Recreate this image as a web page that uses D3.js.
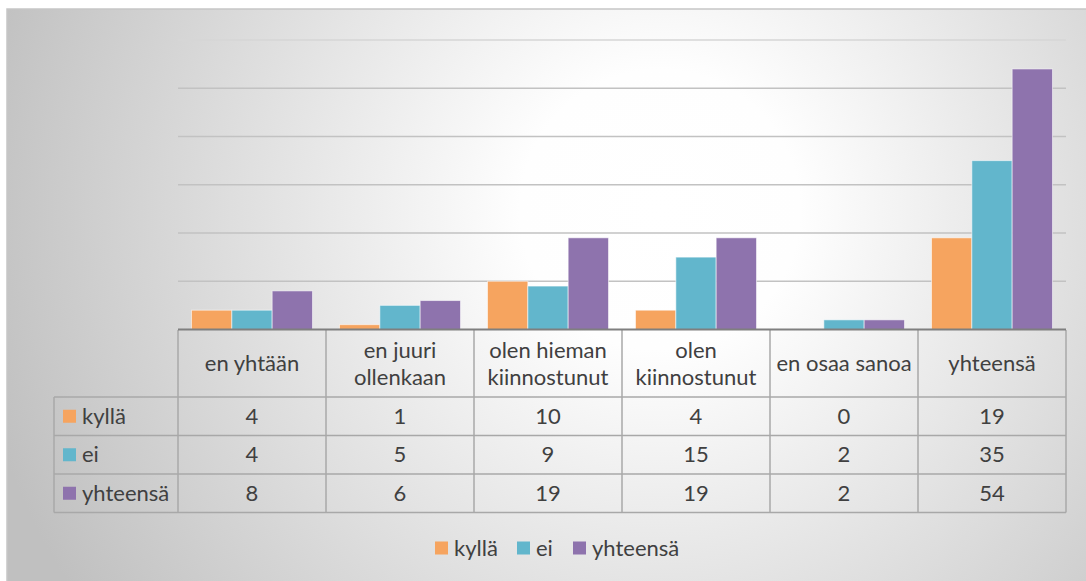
<!DOCTYPE html>
<html>
<head>
<meta charset="utf-8">
<script src="https://cdn.jsdelivr.net/npm/d3@7"></script>
<style>
  body { margin: 0; background: #fff; }
  svg { display: block; font-family: Lato, "Open Sans", sans-serif; }
</style>
</head>
<body>
<script>
// Data
const categories = ["en yhtään", "en juuri ollenkaan", "olen hieman kiinnostunut", "olen kiinnostunut", "en osaa sanoa", "yhteensä"];
const seriesNames = ["kyllä", "ei", "yhteensä"];
const kylla = [4, 1, 10, 4, 0, 19];
const ei = [4, 5, 9, 15, 2, 35];
const yhteensa = [8, 6, 19, 19, 2, 54];
const yTicks = [0, 10, 20, 30, 40, 50, 60];

const seriesValues = [kylla, ei, yhteensa];
const colors = ["#f6a45f", "#62b6cc", "#8e73ad"];

const width = 1086, height = 581;
const fontSize = 22;

const svg = d3.select("body").append("svg")
  .attr("width", width)
  .attr("height", height);

// background gradient
const defs = svg.append("defs");
const grad = defs.append("radialGradient")
  .attr("id", "bg")
  .attr("gradientUnits", "userSpaceOnUse")
  .attr("cx", 660).attr("cy", 210).attr("r", 700);
grad.append("stop").attr("offset", 0).attr("stop-color", "#ffffff");
grad.append("stop").attr("offset", 0.2).attr("stop-color", "#fefefe");
grad.append("stop").attr("offset", 1).attr("stop-color", "#c0c0c0");

svg.append("rect")
  .attr("x", 7).attr("y", 9)
  .attr("width", width).attr("height", height)
  .attr("fill", "url(#bg)")
  .attr("stroke", "#c6c6c6")
  .attr("stroke-width", 1.5);

// Scales
const x0 = d3.scaleBand()
  .domain(categories)
  .range([178, 1066]);

const x1 = d3.scaleBand()
  .domain(seriesNames)
  .range([0, x0.bandwidth()])
  .paddingOuter(0.335);

const y = d3.scaleLinear()
  .domain([0, 60])
  .range([329.5, 40]);

// gridlines
svg.append("g")
  .selectAll("line")
  .data(yTicks.filter(d => d > 0))
  .enter()
  .append("line")
  .attr("x1", 178).attr("x2", 1066)
  .attr("y1", d => y(d)).attr("y2", d => y(d))
  .attr("stroke", d => d === 60 ? "#d6d6d6" : "#c2c2c2")
  .attr("stroke-width", 1.5);

// bars
const groups = svg.append("g")
  .selectAll("g")
  .data(categories)
  .enter()
  .append("g")
  .attr("transform", d => `translate(${x0(d)},0)`);

groups.selectAll("rect")
  .data((d, i) => seriesNames.map((s, j) => ({ s, j, v: seriesValues[j][i] })))
  .enter()
  .filter(d => d.v > 0)
  .append("rect")
  .attr("x", d => x1(d.s))
  .attr("width", x1.bandwidth())
  .attr("y", d => y(d.v))
  .attr("height", d => y(0) - y(d.v))
  .attr("fill", d => colors[d.j])
  .attr("stroke", "rgba(255,255,255,0.55)")
  .attr("stroke-width", 1);

// data table
const rowTop = 330;
const headerH = 67;
const rowH = 38.5;
const tableLeft = 54;
const tableBottom = rowTop + headerH + rowH * 3;

const table = svg.append("g");
const lineColor = "#a8a8a8";

// horizontal lines
const hLines = [rowTop + headerH, rowTop + headerH + rowH, rowTop + headerH + rowH * 2, tableBottom];
table.selectAll("line.h")
  .data(hLines)
  .enter()
  .append("line")
  .attr("x1", tableLeft).attr("x2", 1066)
  .attr("y1", d => d).attr("y2", d => d)
  .attr("stroke", lineColor).attr("stroke-width", 1.5);

// vertical lines
const vLines = categories.map(c => x0(c)).concat([x0.range()[1]]);
table.selectAll("line.v")
  .data(vLines)
  .enter()
  .append("line")
  .attr("x1", d => d).attr("x2", d => d)
  .attr("y1", rowTop).attr("y2", tableBottom)
  .attr("stroke", lineColor).attr("stroke-width", 1.5);

table.append("line")
  .attr("x1", tableLeft).attr("x2", tableLeft)
  .attr("y1", rowTop + headerH).attr("y2", tableBottom)
  .attr("stroke", lineColor).attr("stroke-width", 1.5);

// axis baseline
svg.append("line")
  .attr("x1", 178).attr("x2", 1066)
  .attr("y1", y(0)).attr("y2", y(0))
  .attr("stroke", "#7f7f7f").attr("stroke-width", 2);

// header labels (wrapped)
const header = table.selectAll("text.cat")
  .data(categories)
  .enter()
  .append("text")
  .attr("class", "cat")
  .attr("x", d => x0(d) + x0.bandwidth() / 2)
  .attr("text-anchor", "middle")
  .attr("font-size", fontSize)
  .attr("fill", "#404040");

header.each(function(d) {
  const el = d3.select(this);
  const words = d.split(" ");
  const lines = [];
  let cur = [];
  words.forEach(w => {
    const test = cur.concat([w]).join(" ");
    el.text(test);
    if (this.getComputedTextLength() > 144 && cur.length) {
      lines.push(cur.join(" "));
      cur = [w];
    } else {
      cur.push(w);
    }
  });
  lines.push(cur.join(" "));
  el.text(null);
  const lh = 27;
  const mid = rowTop + headerH / 2;
  lines.forEach((l, k) => {
    el.append("tspan")
      .attr("x", x0(d) + x0.bandwidth() / 2)
      .attr("y", mid + (k - (lines.length - 1) / 2) * lh)
      .attr("dy", "0.35em")
      .text(l);
  });
});

// rows
seriesNames.forEach((s, j) => {
  const cy = rowTop + headerH + rowH * j + rowH / 2;
  table.append("rect")
    .attr("x", 63).attr("y", cy - 6.5)
    .attr("width", 13).attr("height", 13)
    .attr("fill", colors[j]);
  table.append("text")
    .attr("x", 82).attr("y", cy)
    .attr("dy", "0.35em")
    .attr("font-size", fontSize)
    .attr("fill", "#404040")
    .text(s);
  table.selectAll(null)
    .data(seriesValues[j])
    .enter()
    .append("text")
    .attr("x", (d, i) => x0(categories[i]) + x0.bandwidth() / 2)
    .attr("y", cy)
    .attr("dy", "0.35em")
    .attr("text-anchor", "middle")
    .attr("font-size", fontSize)
    .attr("fill", "#404040")
    .text(d => d);
});

// legend
const legendItems = svg.append("g").attr("transform", "translate(0,548)");
const legendX = [435, 517, 573];
seriesNames.forEach((s, j) => {
  legendItems.append("rect")
    .attr("x", legendX[j]).attr("y", -6.5)
    .attr("width", 13).attr("height", 13)
    .attr("fill", colors[j]);
  legendItems.append("text")
    .attr("x", legendX[j] + 19).attr("y", 0)
    .attr("dy", "0.35em")
    .attr("font-size", fontSize)
    .attr("fill", "#404040")
    .text(s);
});
</script>
</body>
</html>
